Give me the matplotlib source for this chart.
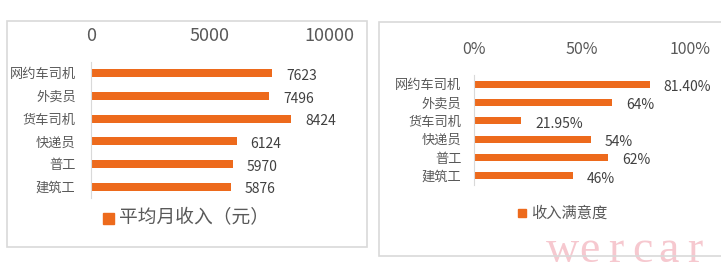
import matplotlib
matplotlib.use('Agg')
import matplotlib.pyplot as plt
from matplotlib.patches import Rectangle
from matplotlib.ticker import PercentFormatter

plt.rcParams['font.family'] = ['Noto Sans CJK SC', 'DejaVu Sans']

# data
jobs = ['网约车司机', '外卖员', '货车司机', '快递员', '普工', '建筑工']
income = [7623, 7496, 8424, 6124, 5970, 5876]
satisfaction = [0.814, 0.64, 0.2195, 0.54, 0.62, 0.46]
satisfaction_labels = ['81.40%', '64%', '21.95%', '54%', '62%', '46%']
income_ticks = [0, 5000, 10000]
pct_ticks = [0, 0.5, 1.0]

W, H = 721, 277
ORANGE = '#ED6A1C'
TEXT = '#595959'
BORDER = '#D9D9D9'

fig = plt.figure(figsize=(W / 100, H / 100), dpi=100)


def px_axes(x0, x1, y0, y1):
    # pixel box (top-left origin) -> figure fraction
    return fig.add_axes([x0 / W, (H - y1) / H, (x1 - x0) / W, (y1 - y0) / H])


def panel(x0, x1, y0, y1):
    fig.patches.append(Rectangle((x0 / W, (H - y1) / H), (x1 - x0) / W, (y1 - y0) / H,
                                 transform=fig.transFigure, fill=False,
                                 edgecolor=BORDER, linewidth=1.2))


def style(ax):
    ax.xaxis.tick_top()
    ax.tick_params(axis='x', length=0, colors=TEXT)
    ax.tick_params(axis='y', length=0, colors=TEXT, labelsize=9.5)
    for s in ['top', 'right', 'bottom']:
        ax.spines[s].set_visible(False)
    ax.spines['left'].set_color(BORDER)
    ax.set_facecolor('none')
    ax.set_ylim(5.5, -0.5)


panel(7, 367, 21, 247)
panel(379, 722, 22, 256)

# left: income
ax1 = px_axes(91, 329, 62, 198)
ax1.barh(jobs, income, height=0.36, color=ORANGE)
ax1.set_xlim(0, 10000)
ax1.set_xticks(income_ticks)
style(ax1)
ax1.tick_params(axis='x', labelsize=13, pad=12)
ax1.tick_params(axis='y', pad=11)
for i, v in enumerate(income):
    ax1.annotate(str(v), (v, i), xytext=(10, -2), textcoords='offset points',
                 ha='left', va='center', fontsize=10, color='#404040')

# right: satisfaction
ax2 = px_axes(474, 690, 75, 185)
ax2.barh(jobs, satisfaction, height=0.38, color=ORANGE)
ax2.set_xlim(0, 1.0)
ax2.set_xticks(pct_ticks)
ax2.xaxis.set_major_formatter(PercentFormatter(1.0, decimals=0))
style(ax2)
ax2.tick_params(axis='x', labelsize=11.5, pad=12)
ax2.tick_params(axis='y', pad=9)
for i, v in enumerate(satisfaction):
    ax2.annotate(satisfaction_labels[i], (v, i), xytext=(10, -2), textcoords='offset points',
                 ha='left', va='center', fontsize=10, color='#404040')

# legends
fig.patches.append(Rectangle((103 / W, (H - 224) / H), 11 / W, 11 / H,
                             transform=fig.transFigure, color=ORANGE))
fig.text(119 / W, (H - 218) / H, '平均月收入（元）', fontsize=13.5, color=TEXT,
         ha='left', va='center')
fig.patches.append(Rectangle((518 / W, (H - 217) / H), 8 / W, 8 / H,
                             transform=fig.transFigure, color=ORANGE))
fig.text(531 / W, (H - 213) / H, '收入满意度', fontsize=11, color=TEXT,
         ha='left', va='center')

# watermark, spaced out letter by letter
for k, ch in enumerate('wercar'):
    fig.text((563 + 26.4 * k) / W, (H - 262) / H, ch, fontsize=33, color='#F6C8CF',
             family='Liberation Serif', ha='center', va='baseline', zorder=-1)

fig.savefig('out.png', dpi=100)
